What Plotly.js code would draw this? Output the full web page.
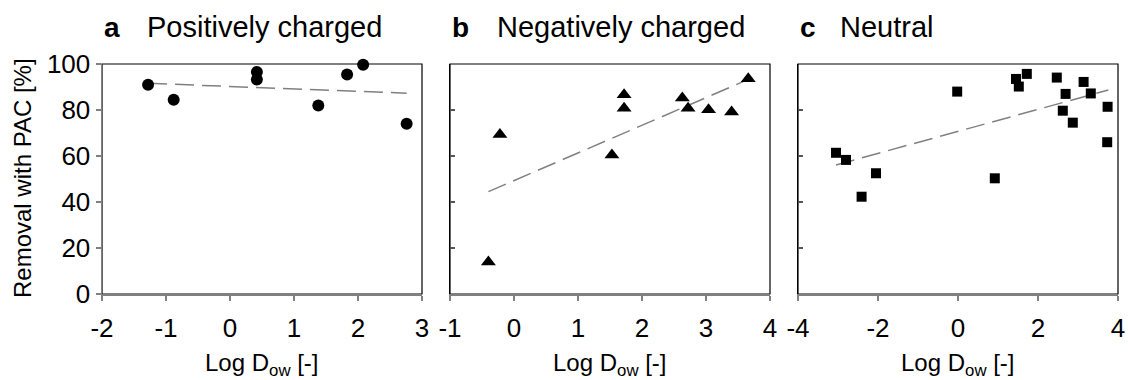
<!DOCTYPE html>
<html>
<head>
<meta charset="utf-8">
<script src="https://cdn.plot.ly/plotly-3.0.1.min.js"></script>
<style>html,body{margin:0;padding:0;background:#fff;}#chart{width:1128px;height:380px;}</style>
</head>
<body>
<div id="chart"></div>
<script>
// Panel a: positively charged
const posLogDow = [-1.28, -0.88, 0.42, 0.42, 1.38, 1.83, 2.08, 2.76];
const posRemoval = [91, 84.5, 96.5, 93.3, 82, 95.4, 99.7, 74];
const posFitX = [-1.28, 2.76];
const posFitY = [91.6, 87.3];
// Panel b: negatively charged
const negLogDow = [-0.4, -0.22, 1.53, 1.72, 1.72, 2.63, 2.72, 3.04, 3.4, 3.66];
const negRemoval = [13.9, 69.4, 60.4, 86.6, 80.8, 85.2, 80.8, 80.1, 79.1, 93.6];
const negFitX = [-0.4, 3.66];
const negFitY = [44.5, 93.3];
// Panel c: neutral
const neuLogDow = [-3.05, -2.8, -2.41, -2.05, -0.02, 0.92, 1.45, 1.52, 1.72, 2.47, 2.62, 2.69, 2.87, 3.14, 3.32, 3.73, 3.74];
const neuRemoval = [61.4, 58.3, 42.3, 52.5, 88, 50.3, 93.5, 90.2, 95.7, 94.1, 79.7, 87, 74.5, 92.2, 87.2, 66, 81.4];
const neuFitX = [-3.05, 3.76];
const neuFitY = [56.1, 88.7];

const panelLetters = ['a', 'b', 'c'];
const panelTitles = ['Positively charged', 'Negatively charged', 'Neutral'];
const xRanges = [[-2, 3], [-1, 4], [-4, 4]];
const xTickVals = [[-2, -1, 0, 1, 2, 3], [-1, 0, 1, 2, 3, 4], [-4, -2, 0, 2, 4]];
const xTickText = [['-2', '-1', '0', '1', '2', '3'], ['-1', '0', '1', '2', '3', '4'], ['-4', '-2', '0', '2', '4']];
const yTicks = [0, 20, 40, 60, 80, 100];
const xTitle = 'Log D<sub>ow</sub> [-]';
const yTitle = 'Removal with PAC [%]';

const W = 1128, H = 380;
const FONT = 'Liberation Sans, Arial, sans-serif';
const GREY = '#808080';
const panelLeft = [102, 450, 798];
const panelWidth = 320;
const yTopPx = 64, yBotPx = 294;
const titleOffsets = [43, 45, 40];

const series = [
  {x: posLogDow, y: posRemoval, fx: posFitX, fy: posFitY, sym: 'circle', size: 12},
  {x: negLogDow, y: negRemoval, fx: negFitX, fy: negFitY, sym: 'triangle-up', size: 13},
  {x: neuLogDow, y: neuRemoval, fx: neuFitX, fy: neuFitY, sym: 'square', size: 10}
];

const data = [];
const layout = {
  width: W, height: H,
  margin: {l: 0, r: 0, t: 0, b: 0},
  paper_bgcolor: '#fff', plot_bgcolor: '#fff',
  showlegend: false,
  font: {family: FONT, size: 24, color: '#000'},
  shapes: [], annotations: []
};
const yDomain = [1 - yBotPx / H, 1 - yTopPx / H];

series.forEach((s, i) => {
  const n = i + 1;
  const xa = n === 1 ? 'x' : 'x' + n;
  const ya = n === 1 ? 'y' : 'y' + n;
  const xk = n === 1 ? 'xaxis' : 'xaxis' + n;
  const yk = n === 1 ? 'yaxis' : 'yaxis' + n;
  data.push({x: s.fx, y: s.fy, xaxis: xa, yaxis: ya, type: 'scatter', mode: 'lines',
    line: {color: GREY, width: 1.5, dash: '19px,8px'}, hoverinfo: 'skip'});
  data.push({x: s.x, y: s.y, xaxis: xa, yaxis: ya, type: 'scatter', mode: 'markers',
    cliponaxis: false, marker: {symbol: s.sym, size: s.size, color: '#000'}});
  const d0 = panelLeft[i] / W, d1 = (panelLeft[i] + panelWidth) / W;
  layout[xk] = {
    domain: [d0, d1], range: xRanges[i], anchor: ya,
    tickmode: 'array', tickvals: xTickVals[i], ticktext: xTickText[i],
    showgrid: false, zeroline: false, showline: true, linecolor: GREY, linewidth: 2,
    ticks: 'outside', ticklen: 5, tickwidth: 1.5, tickcolor: GREY, ticklabelstandoff: 5,
    tickfont: {size: 26, family: FONT, color: '#000'}, fixedrange: true
  };
  layout[yk] = {
    domain: yDomain, range: [0, 100], anchor: xa, tickmode: 'array', tickvals: yTicks,
    ticksuffix: '\u2009',
    showgrid: false, zeroline: false, showline: true,
    linecolor: i === 0 ? GREY : '#000', linewidth: i === 0 ? 1.5 : 1.2,
    ticks: i === 0 ? 'outside' : 'inside', ticklen: 5, tickwidth: 1.5,
    tickcolor: i === 0 ? GREY : '#555',
    showticklabels: i === 0, tickfont: {size: 26, family: FONT, color: '#000'},
    fixedrange: true
  };
  // right-side mirrored axis with inward ticks
  const rk = 'yaxis' + (n + 3);
  layout[rk] = {
    overlaying: ya, side: 'right', anchor: xa, range: [0, 100], tickmode: 'array', tickvals: yTicks,
    showgrid: false, zeroline: false, showline: false, showticklabels: false,
    ticks: 'inside', ticklen: 5, tickwidth: 1.5, tickcolor: '#555', fixedrange: true
  };
  // black frame
  layout.shapes.push({type: 'rect', xref: xa + ' domain', yref: ya + ' domain',
    x0: 0, x1: 1, y0: 0, y1: 1, line: {color: '#000', width: 1.2}, layer: 'below'});
  // panel titles
  layout.annotations.push({text: '<b>' + panelLetters[i] + '</b>', xref: 'paper', yref: 'paper',
    x: panelLeft[i] / W, y: 1 - 27 / H, xanchor: 'left', yanchor: 'middle', showarrow: false,
    font: {size: 28, family: FONT, color: '#000'}});
  layout.annotations.push({text: panelTitles[i], xref: 'paper', yref: 'paper',
    x: (panelLeft[i] + titleOffsets[i]) / W, y: 1 - 27 / H, xanchor: 'left', yanchor: 'middle', showarrow: false,
    font: {size: 29, family: FONT, color: '#000'}});
  // x titles
  layout.annotations.push({text: xTitle, xref: 'paper', yref: 'paper',
    x: (panelLeft[i] + panelWidth / 2) / W, y: 1 - 364 / H, xanchor: 'center', yanchor: 'middle',
    showarrow: false, font: {size: 24, family: FONT, color: '#000'}});
});
layout.annotations.push({text: yTitle, xref: 'paper', yref: 'paper', textangle: -90,
  x: 22 / W, y: 1 - 178 / H, xanchor: 'center', yanchor: 'middle', showarrow: false,
  font: {size: 24, family: FONT, color: '#000'}});

Plotly.newPlot('chart', data, layout, {displayModeBar: false, staticPlot: true});
</script>
</body>
</html>
